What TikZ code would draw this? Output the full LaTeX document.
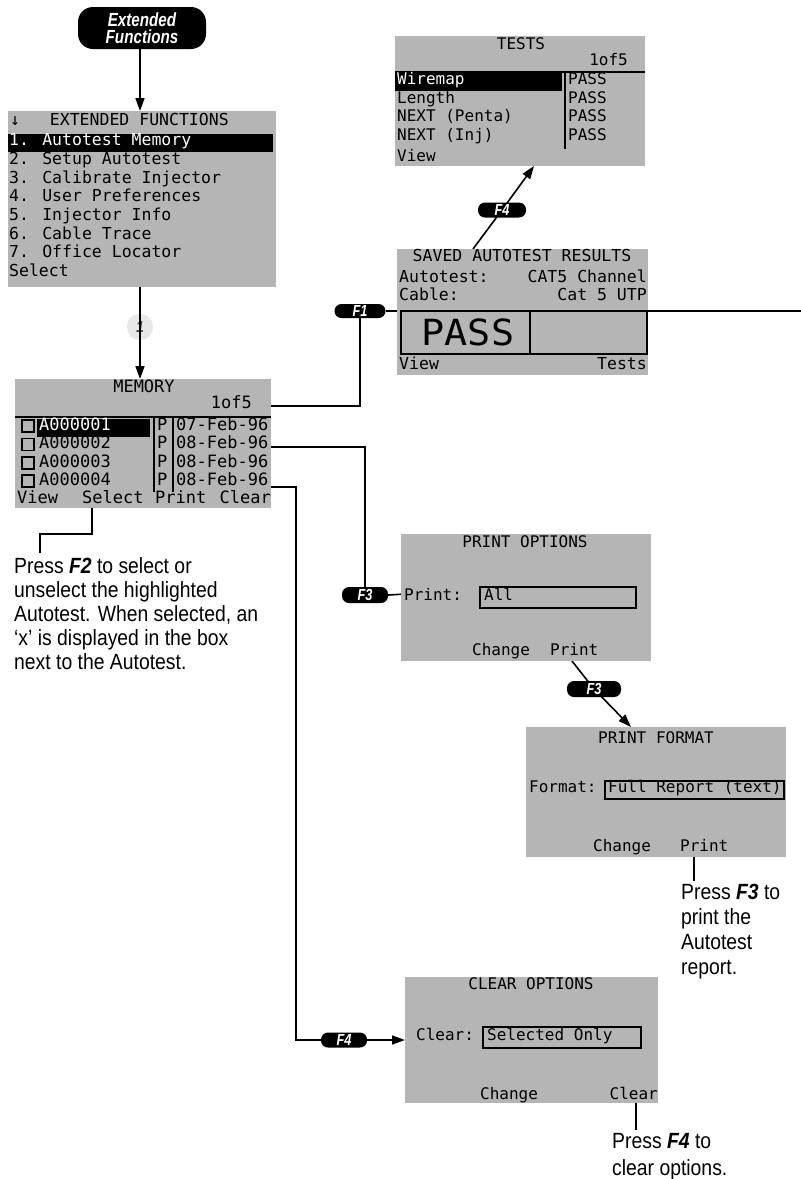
\documentclass[tikz,border=0pt]{standalone}
\usepackage{fontspec}
\usetikzlibrary{arrows.meta,calc}
\newfontfamily\lcdfont{DejaVu Sans Mono}
\newfontfamily\notefont[FakeStretch=0.88]{Liberation Sans}
\newfontfamily\pillfont[FakeStretch=0.8]{Liberation Sans}
\newcommand\lcdsz[1]{\lcdfont\fontsize{#1}{#1}\selectfont}
\definecolor{lcd}{gray}{0.71}
\pgfdeclarelayer{bg}
\pgfsetlayers{bg,main}
\tikzset{
  screen/.style={fill=lcd, draw=none, inner sep=0pt, anchor=north west},
  lt/.style={inner sep=0pt, anchor=mid west, text=black, font=\lcdsz{16}},
  le/.style={inner sep=0pt, anchor=mid west, text=black, font=\lcdsz{16.5}},
  lm/.style={inner sep=0pt, anchor=mid west, text=black, font=\lcdsz{17}},
  inv/.style={text=white},
  pill/.style={fill=black, rounded corners=7pt, text=white, inner sep=0pt,
    font=\pillfont\bfseries\itshape\fontsize{16}{16}\selectfont},
  conn/.style={line width=1.6pt, black},
  arr/.style={conn, -{Triangle[length=13pt,width=9pt]}},
  lcdline/.style={line width=1.4pt, black},
  note/.style={inner sep=0pt, anchor=north west, align=left,
    font=\notefont\fontsize{22}{24}\selectfont}
}
\begin{document}
\begin{tikzpicture}[x=1pt,y=-1pt]
\useasboundingbox (0,0) rectangle (801,1179);

% ---------- start pill ----------
\node[pill, rounded corners=15pt, minimum width=128pt, minimum height=42pt, align=center,
  font=\pillfont\bfseries\itshape\fontsize{19}{17}\selectfont] (ext) at (142,28) {Extended\\Functions};

% ---------- EXTENDED FUNCTIONS screen ----------
\node[screen, minimum width=268pt, minimum height=176pt] (ef) at (8,111) {};
\node[le] (efT) at (10,123) {↓\ \ \ EXTENDED FUNCTIONS};
\fill[black] (8,134) rectangle (273,152);
\node[le, inv] (ef1) at (9,143.5) {1. Autotest Memory};
\node[le] (ef2) at (9,162.2) {2. Setup Autotest};
\node[le] (ef3) at (9,180.9) {3. Calibrate Injector};
\node[le] (ef4) at (9,199.6) {4. User Preferences};
\node[le] (ef5) at (9,218.3) {5. Injector Info};
\node[le] (ef6) at (9,237) {6. Cable Trace};
\node[le] (ef7) at (9,255.7) {7. Office Locator};
\node[le] (efS) at (9,274.4) {Select};

% ---------- MEMORY screen ----------
\node[screen, minimum width=256pt, minimum height=129pt] (mem) at (15,379) {};
\node[lm, anchor=mid] (memT) at (144,390) {MEMORY};
\node[lm, anchor=mid east] (mem15) at (252,406) {1of5};
\draw[lcdline] (15,417) -- (271,417);
\draw[lcdline] (154,417) -- (154,492);
\draw[lcdline] (173,417) -- (173,492);
\fill[black] (37,419) rectangle (150,437);
\foreach \y/\n/\d/\c [count=\i] in {428/A000001/07-Feb-96/white, 446.5/A000002/08-Feb-96/black, 465/A000003/08-Feb-96/black, 483/A000004/08-Feb-96/black}{
  \draw[line width=1.2pt] (22,\y-8) rectangle (34,\y+4);
  \node[lm, text=\c] (memN\i) at (39,\y) {\n};
  \node[lm] (memP\i) at (157,\y) {P};
  \node[lm] (memD\i) at (176,\y) {\d};
}
\node[lm] (memV) at (17,501) {View};
\node[lm] (memSel) at (82,501) {Select};
\node[lm] (memPr) at (155,501) {Print};
\node[lm, anchor=mid east] (memCl) at (271,501) {Clear};

% ---------- TESTS screen ----------
\node[screen, minimum width=250pt, minimum height=130pt] (tests) at (395,36) {};
\node[lt, anchor=mid] (tT) at (521,47) {TESTS};
\node[lt, anchor=mid east] (t15) at (628,63) {1of5};
\draw[lcdline] (395,72) -- (645,72);
\fill[black] (395,73) rectangle (562,91);
\draw[lcdline] (565,72) -- (565,149);
\node[lt, inv] (t1) at (397,82.5) {Wiremap};
\node[lt] (t2) at (397,101) {Length};
\node[lt] (t3) at (397,119.5) {NEXT (Penta)};
\node[lt] (t4) at (397,138) {NEXT (Inj)};
\node[lt] (tV) at (397,159) {View};
\foreach \y [count=\i] in {82.5,101,119.5,138}{
  \node[lt] (tP\i) at (568,\y) {PASS};
}

% ---------- SAVED AUTOTEST RESULTS screen ----------
\node[screen, minimum width=251pt, minimum height=126pt] (sav) at (397,249) {};
\node[le, anchor=mid] (sT) at (522,259) {SAVED AUTOTEST RESULTS};
\node[le] (sA) at (399,280) {Autotest:};
\node[le, anchor=mid east] (sA2) at (647,280) {CAT5 Channel};
\node[le] (sC) at (399,298) {Cable:};
\node[le, anchor=mid east] (sC2) at (647,298) {Cat 5 UTP};
\draw[lcdline] (401,311) rectangle (647,354);
\draw[lcdline] (530,311) -- (530,354);
\node[inner sep=0pt, font=\lcdsz{40}] (sPass) at (468,332) {\scalebox{0.96}[0.9]{PASS}};
\node[le] (sV) at (399,367) {View};
\node[le, anchor=mid east] (sTe) at (647,367) {Tests};

% ---------- PRINT OPTIONS screen ----------
\node[screen, minimum width=250pt, minimum height=127pt] (po) at (401,534) {};
\node[lt, anchor=mid] (poT) at (525,545) {PRINT OPTIONS};
\node[lt] (poL) at (404,598) {Print:};
\draw[lcdline] (480,587) rectangle (636,608);
\node[lt] (poF) at (484,598) {All};
\node[lt] (poC) at (472,653) {Change};
\node[lt] (poP) at (550,653) {Print};

% ---------- PRINT FORMAT screen ----------
\node[screen, minimum width=260pt, minimum height=130pt] (pf) at (526,727) {};
\node[lt, anchor=mid] (pfT) at (656,741) {PRINT FORMAT};
\node[lt] (pfL) at (529,790) {Format:};
\draw[lcdline] (605,781) rectangle (784,799);
\node[lt] (pfF) at (608,790) {Full Report (text)};
\node[lt] (pfC) at (593,849) {Change};
\node[lt] (pfP) at (680,849) {Print};

% ---------- CLEAR OPTIONS screen ----------
\node[screen, minimum width=253pt, minimum height=126pt] (clr) at (405,977) {};
\node[lt, anchor=mid] (cT) at (531,987) {CLEAR OPTIONS};
\node[lt] (cL) at (416,1038) {Clear:};
\draw[lcdline] (483,1027) rectangle (641,1048);
\node[lt] (cF) at (487,1038) {Selected Only};
\node[lt] (cC) at (480,1097) {Change};
\node[lt, anchor=mid east] (cCl) at (658,1097) {Clear};

% ---------- function key pills ----------
\node[pill, minimum width=48pt, minimum height=15pt] (f4a) at (502,210) {F4};
\node[pill, minimum width=51pt, minimum height=14pt] (f1) at (360,311) {F1};
\node[pill, minimum width=46pt, minimum height=16pt] (f3a) at (365,595) {F3};
\node[pill, minimum width=54pt, minimum height=16pt] (f3b) at (594,689) {F3};
\node[pill, minimum width=46pt, minimum height=15pt] (f4b) at (344,1040) {F4};

% ---------- notes ----------
\node[note] (nF2) at (14,557) {Press \textbf{\textit{F2}} to select or\\unselect the highlighted\\Autotest. When selected, an\\‘x’ is displayed in the box\\next to the Autotest.};
\node[note, font=\notefont\fontsize{22}{25}\selectfont] (nF3) at (681,884) {Press \textbf{\textit{F3}} to\\print the\\Autotest\\report.};
\node[note, font=\notefont\fontsize{22}{27}\selectfont] (nF4) at (612,1133) {Press \textbf{\textit{F4}} to\\clear options.};

% ---------- coordinates ----------
\coordinate (m1) at (271,406);
\coordinate (m2) at (271,447);
\coordinate (m4) at (271,487);
\coordinate (m4c) at (296,1040);
\coordinate (rEdge) at (801,311);
\coordinate (savTop) at (473,249);
\coordinate (tstBot) at (534,166);
\coordinate (poPs) at (572,661);
\coordinate (pfTop) at (631,727);
\coordinate (selA) at (92,508);
\coordinate (selB) at (40,553);
\coordinate (pfPs) at (694,857);
\coordinate (pfPe) at (694,881);
\coordinate (cPs) at (636,1103);
\coordinate (cPe) at (636,1130);

% ---------- connectors ----------
\begin{pgfonlayer}{bg}
\node[circle, minimum size=26pt, inner sep=0pt, fill=gray!18, draw=gray!45, dotted,
  text=gray!55!black, font=\notefont\bfseries\itshape\fontsize{16}{16}\selectfont] (one) at (140,327) {1};
\draw[arr] (ext.south -| 140,0) -- (140,111);
\draw[arr] (ef.south -| one) -- (one.center) -- (one |- mem.north);
\draw[conn] (m1) -| (f1.south);
\draw[conn] (f1.east) -- (rEdge);
\draw[arr] (savTop) -- (f4a.center) -- (tstBot);
\draw[conn] (m2) -| (f3a.north);
\draw[conn] (f3a.east) -- (poL.west);
\draw[conn] (poPs) -- (f3b.center);
\draw[arr] (f3b.center) -- (pfTop);
\draw[conn] (m4) -| (m4c) -- (f4b.west);
\draw[arr] (f4b.east) -- (clr.west |- f4b);
\draw[conn] (selA) -- ++(0,26) -| (selB);
\draw[conn] (pfPs) -- (pfPe);
\draw[conn] (cPs) -- (cPe);
\end{pgfonlayer}
\end{tikzpicture}
\end{document}
